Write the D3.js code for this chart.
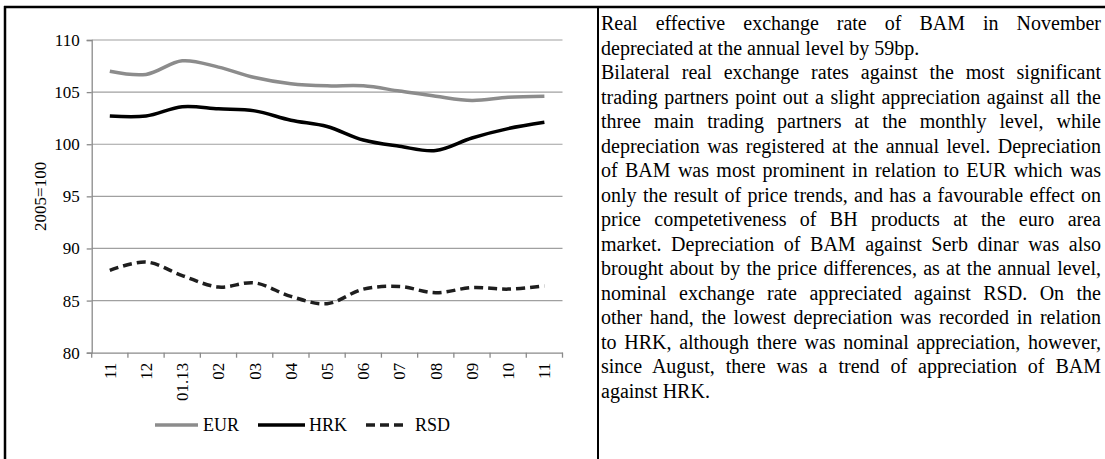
<!DOCTYPE html>
<html>
<head>
<meta charset="utf-8">
<script src="https://cdn.jsdelivr.net/npm/d3@7"></script>
<style>
  html, body { margin: 0; padding: 0; background: #fff; }
  body { width: 1105px; height: 459px; position: relative; overflow: hidden; font-family: "Liberation Serif", "Times New Roman", serif; }
  #txt { position: absolute; left: 601px; top: 11px; width: 500px; font-size: 20px; line-height: 24.5px; color: #000; }
  #txt .ln { white-space: nowrap; }
  #txt .j { text-align: justify; text-align-last: justify; white-space: normal; }
</style>
</head>
<body>
<svg id="chart" width="1105" height="459" style="position:absolute;left:0;top:0"></svg>
<div id="txt"></div>
<script>
// ---- data ----
const categories = ["11", "12", "01.13", "02", "03", "04", "05", "06", "07", "08", "09", "10", "11"];
const seriesNames = ["EUR", "HRK", "RSD"];
const eurValues = [107.0, 106.7, 108.0, 107.4, 106.4, 105.8, 105.6, 105.6, 105.1, 104.6, 104.2, 104.5, 104.6];
const hrkValues = [102.7, 102.7, 103.6, 103.4, 103.2, 102.3, 101.7, 100.4, 99.8, 99.4, 100.6, 101.5, 102.1];
const rsdValues = [87.9, 88.7, 87.4, 86.3, 86.7, 85.4, 84.7, 86.1, 86.35, 85.75, 86.25, 86.1, 86.4];
const yTicks = [80, 85, 90, 95, 100, 105, 110];
const yLabel = "2005=100";
const textLines = [
  ["Real effective exchange rate of BAM in November", true],
  ["depreciated at the annual level by 59bp.", false],
  ["Bilateral real exchange rates against the most significant", true],
  ["trading partners point out a slight appreciation against all the", true],
  ["three main trading partners at the monthly level, while", true],
  ["depreciation was registered at the annual level. Depreciation", true],
  ["of BAM was most prominent in relation to EUR which was", true],
  ["only the result of price trends, and has a favourable effect on", true],
  ["price competetiveness of BH products at the euro area", true],
  ["market. Depreciation of BAM against Serb dinar was also", true],
  ["brought about by the price differences, as at the annual level,", true],
  ["nominal exchange rate appreciated against RSD. On the", true],
  ["other hand, the lowest depreciation was recorded in relation", true],
  ["to HRK, although there was nominal appreciation, however,", true],
  ["since August, there was a trend of appreciation of BAM", true],
  ["against HRK.", false]
];

const series = [
  { name: seriesNames[0], values: eurValues, color: "#8c8c8c", dash: null },
  { name: seriesNames[1], values: hrkValues, color: "#000000", dash: null },
  { name: seriesNames[2], values: rsdValues, color: "#1e1e1e", dash: "9,5" }
];

// ---- layout ----
const svg = d3.select("#chart");
const plot = { left: 91.7, right: 562.5, top: 40, bottom: 352.7 };

const x = d3.scaleBand().domain(d3.range(categories.length)).range([plot.left, plot.right]).padding(0);
const y = d3.scaleLinear().domain([80, 110]).range([plot.bottom, plot.top]);

// frame
svg.append("line").attr("x1", 4).attr("x2", 1105).attr("y1", 7).attr("y2", 7).attr("stroke", "#000").attr("stroke-width", 2.5);
svg.append("line").attr("x1", 5).attr("x2", 5).attr("y1", 6).attr("y2", 459).attr("stroke", "#000").attr("stroke-width", 2.5);
svg.append("line").attr("x1", 598).attr("x2", 598).attr("y1", 6).attr("y2", 459).attr("stroke", "#000").attr("stroke-width", 2);

// gridlines
svg.append("g").selectAll("line").data(yTicks.filter(d => d !== 80)).join("line")
  .attr("x1", plot.left).attr("x2", plot.right)
  .attr("y1", d => y(d)).attr("y2", d => y(d))
  .attr("stroke", "#a0a0a0").attr("stroke-width", 1.2);

// y axis
const yAxis = d3.axisLeft(y).tickValues(yTicks).tickSize(5).tickPadding(7).tickFormat(d3.format("d"));
const gy = svg.append("g").attr("transform", `translate(${plot.left},0)`).call(yAxis);
gy.select(".domain").attr("stroke", "#8a8a8a").attr("stroke-width", 1.3);
gy.selectAll(".tick line").attr("stroke", "#8a8a8a").attr("stroke-width", 1.3);
gy.selectAll(".tick text").attr("font-family", "Liberation Serif, serif").attr("font-size", 17).attr("fill", "#000");

// x axis
const xAxis = d3.axisBottom(x).tickSize(0).tickFormat(i => categories[i]);
const gx = svg.append("g").attr("transform", `translate(0,${plot.bottom})`).call(xAxis);
gx.select(".domain").attr("stroke", "#8a8a8a").attr("stroke-width", 1.3);
gx.selectAll(".tick text")
  .attr("font-family", "Liberation Serif, serif").attr("font-size", 17).attr("fill", "#000")
  .attr("transform", "rotate(-90)")
  .attr("text-anchor", "end")
  .attr("x", -10).attr("y", 0).attr("dy", "0.35em");
// boundary tick marks
const bounds = d3.range(categories.length + 1).map(i => plot.left + i * x.bandwidth());
svg.append("g").selectAll("line").data(bounds).join("line")
  .attr("x1", d => d).attr("x2", d => d)
  .attr("y1", plot.bottom).attr("y2", plot.bottom + 5)
  .attr("stroke", "#8a8a8a").attr("stroke-width", 1.3);

// y label
svg.append("text")
  .attr("transform", `translate(46,${y(95)}) rotate(-90)`)
  .attr("text-anchor", "middle")
  .attr("font-family", "Liberation Serif, serif").attr("font-size", 17)
  .text(yLabel);

// lines
const line = d3.line()
  .x((d, i) => x(i) + x.bandwidth() / 2)
  .y(d => y(d))
  .curve(d3.curveCatmullRom.alpha(0.5));

svg.append("g").selectAll("path").data(series).join("path")
  .attr("d", s => line(s.values))
  .attr("fill", "none")
  .attr("stroke", s => s.color)
  .attr("stroke-width", 3.5)
  .attr("stroke-dasharray", s => s.dash);

// legend
const legendItems = [
  { s: series[0], x1: 155, x2: 198, tx: 203 },
  { s: series[1], x1: 258, x2: 305, tx: 309 },
  { s: series[2], x1: 366, x2: 408, tx: 415 }
];
const lg = svg.append("g");
legendItems.forEach(it => {
  lg.append("line").attr("x1", it.x1).attr("x2", it.x2).attr("y1", 425).attr("y2", 425)
    .attr("stroke", it.s.color).attr("stroke-width", 3.5).attr("stroke-dasharray", it.s.dash);
  lg.append("text").attr("x", it.tx).attr("y", 431)
    .attr("font-family", "Liberation Serif, serif").attr("font-size", 18)
    .text(it.s.name);
});

// text block
d3.select("#txt").selectAll("div").data(textLines).join("div")
  .attr("class", d => d[1] ? "ln j" : "ln")
  .text(d => d[0]);
</script>
</body>
</html>
